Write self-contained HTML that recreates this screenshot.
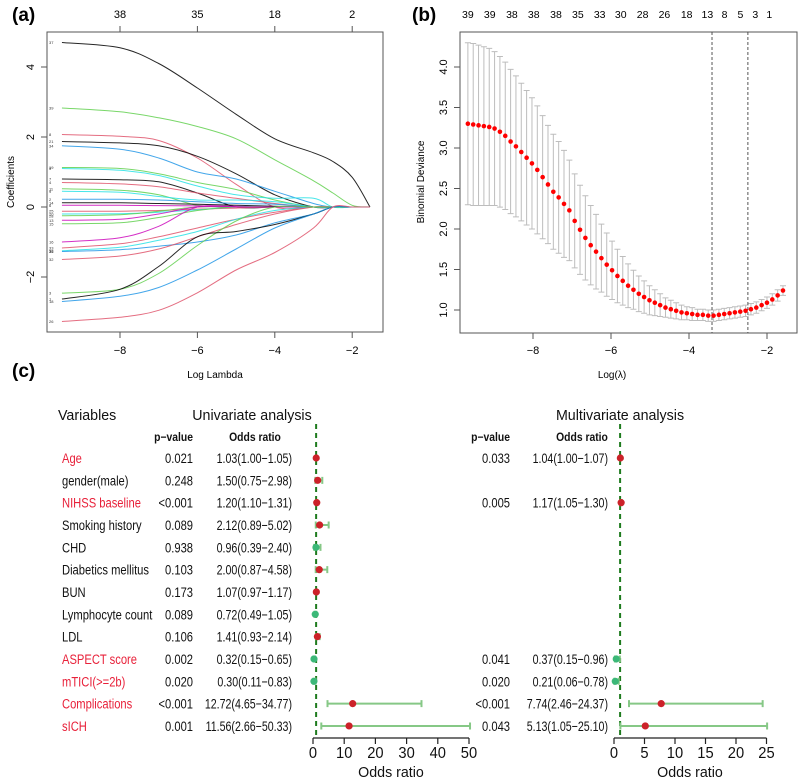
<!DOCTYPE html>
<html><head><meta charset="utf-8">
<style>
html,body{margin:0;padding:0;background:#fff;}
svg{display:block;font-family:"Liberation Sans",Arial,sans-serif;}
</style></head>
<body>
<svg id="root" width="800" height="780" viewBox="0 0 800 780" xmlns="http://www.w3.org/2000/svg">
<text x="12" y="21" font-size="19" font-weight="bold">(a)</text>
<text x="412" y="21" font-size="19" font-weight="bold">(b)</text>
<text x="12" y="377" font-size="19" font-weight="bold">(c)</text>
<g id="pa"></g>
<g id="pb"></g>
<g id="pc"></g>
</svg>
<script>
// ---------- Panel A data ----------
const aKnots = [-9.5,-8,-7,-6,-5,-4,-3,-2.5,-2,-1.54];
const aColors = ["#000","#61D04F","#DF536B","#000","#2297E6","#61D04F","#28E2E5","#000","#DF536B","#61D04F","#28E2E5","#2297E6","#000","#CD0BBC","#DF536B","#28E2E5","#61D04F","#CD0BBC","#61D04F","#CD0BBC","#DF536B","#28E2E5","#2297E6","#DF536B","#61D04F","#000","#2297E6","#DF536B"];
const aCoefs = [
 [4.7,4.55,4.1,3.4,2.65,1.95,1.55,1.3,0.85,0],
 [2.83,2.72,2.55,2.3,1.95,1.35,0.75,0.4,0.05,0],
 [2.07,2.02,1.9,1.4,0.65,0,0,0,0,0],
 [1.87,1.83,1.75,1.45,0.95,0.35,0,0,0,0],
 [1.75,1.65,1.4,1.0,0.8,0.45,0.1,0,0,0],
 [1.13,1.1,0.95,0.7,0.5,0.2,0,0,0,0],
 [1.1,1.05,0.9,0.6,0.35,0.25,0.25,0,0,0],
 [0.8,0.78,0.72,0.4,0,0,0,0,0,0],
 [0.7,0.66,0.58,0.4,0.25,0.1,0,0,0,0],
 [0.52,0.48,0.35,0.05,0,0,0,0,0,0],
 [0.45,0.42,0.3,0.2,0.2,0.15,0,0,0,0],
 [0.22,0.22,0.2,0.15,0.1,0.08,0,0,0,0],
 [0.12,0.12,0.1,0.08,0.05,0.02,0,0,0,0],
 [0.05,0.05,0.04,0.03,0.02,0,0,0,0,0],
 [-0.12,-0.12,-0.1,-0.06,-0.03,0,0,0,0,0],
 [-0.2,-0.19,-0.15,-0.08,0,0,0,0,0,0],
 [-0.25,-0.22,-0.12,0,0,0,0,0,0,0],
 [-0.38,-0.35,-0.2,0,0,0,0,0,0,0],
 [-0.48,-0.45,-0.3,-0.1,0,0,0,0,0,0],
 [-1.0,-0.88,-0.55,0,0,0,0,0,0,0],
 [-1.17,-1.05,-0.85,-0.6,-0.35,-0.15,0,0,0,0],
 [-1.25,-1.15,-0.95,-0.7,-0.35,-0.1,0,0,0,0],
 [-1.27,-1.22,-1.12,-1.0,-0.8,-0.45,-0.2,0,0,0],
 [-1.5,-1.4,-1.2,-0.85,-0.5,-0.2,0,0,0,0],
 [-2.46,-2.35,-1.9,-1.1,-0.4,0,0,0,0,0],
 [-2.63,-2.35,-1.7,-0.85,-0.7,-0.5,-0.2,0,0,0],
 [-2.7,-2.55,-2.3,-1.8,-1.2,-0.6,-0.2,0,0,0],
 [-3.27,-3.15,-2.95,-2.45,-1.8,-1.3,-0.6,0,0,0]
];
const aLabels = ["37","39","8","21","34","19","5","7","4","11","9","2","14","6","25","20","28","13","15","16","33","38","35","32","3","1","18","26"];
const aXTicks = [-8,-6,-4,-2];
const aYTicks = [-2,0,2,4];
const aTopTicks = ["38","35","18","2"];

// ---------- Panel B data ----------
const bLogLambdaMax = -9.67, bLogLambdaMin = -1.59;
const bMean = [3.30,3.29,3.28,3.27,3.26,3.24,3.20,3.15,3.08,3.02,2.95,2.88,2.81,2.73,2.64,2.55,2.46,2.39,2.31,2.23,2.10,1.99,1.89,1.80,1.72,1.64,1.56,1.49,1.42,1.36,1.30,1.25,1.20,1.16,1.12,1.09,1.06,1.03,1.01,0.99,0.97,0.96,0.95,0.94,0.94,0.93,0.93,0.94,0.95,0.96,0.97,0.98,0.99,1.01,1.03,1.06,1.09,1.13,1.18,1.24];
const bSe = [1.00,1.00,0.99,0.98,0.97,0.95,0.93,0.91,0.89,0.87,0.85,0.83,0.81,0.79,0.76,0.73,0.71,0.69,0.66,0.62,0.58,0.55,0.52,0.49,0.46,0.42,0.39,0.36,0.33,0.30,0.27,0.24,0.22,0.20,0.18,0.16,0.14,0.12,0.11,0.10,0.09,0.08,0.08,0.07,0.07,0.07,0.07,0.07,0.07,0.07,0.07,0.07,0.07,0.07,0.07,0.07,0.07,0.07,0.07,0.06];
const bVlines = [-3.41,-2.49];
const bXTicks = [-8,-6,-4,-2];
const bYTicks = [1.0,1.5,2.0,2.5,3.0,3.5,4.0];
const bTopLabels = ["39","39","38","38","38","35","33","30","28","26","18","13","8","5","3","1"];
const bTopLambda = [-9.67,-9.11,-8.54,-7.98,-7.41,-6.85,-6.29,-5.75,-5.19,-4.63,-4.06,-3.53,-3.09,-2.68,-2.3,-1.94];

// ---------- Panel C data ----------
const cVars = ["Age","gender(male)","NIHSS baseline","Smoking history","CHD","Diabetics mellitus","BUN","Lymphocyte count","LDL","ASPECT score","mTICI(>=2b)","Complications","sICH"];
const cSig = [1,0,1,0,0,0,0,0,0,1,1,1,1];
const uniP = ["0.021","0.248","<0.001","0.089","0.938","0.103","0.173","0.089","0.106","0.002","0.020","<0.001","0.001"];
const uniOR = [1.03,1.50,1.20,2.12,0.96,2.00,1.07,0.72,1.41,0.32,0.30,12.72,11.56];
const uniLo = [1.00,0.75,1.10,0.89,0.39,0.87,0.97,0.49,0.93,0.15,0.11,4.65,2.66];
const uniHi = [1.05,2.98,1.31,5.02,2.40,4.58,1.17,1.05,2.14,0.65,0.83,34.77,50.33];
const multiP = ["0.033",null,"0.005",null,null,null,null,null,null,"0.041","0.020","<0.001","0.043"];
const multiOR = [1.04,null,1.17,null,null,null,null,null,null,0.37,0.21,7.74,5.13];
const multiLo = [1.00,null,1.05,null,null,null,null,null,null,0.15,0.06,2.46,1.05];
const multiHi = [1.07,null,1.30,null,null,null,null,null,null,0.96,0.78,24.37,25.10];
const uniTicks = [0,10,20,30,40,50];
const multiTicks = [0,5,10,15,20,25];

const NS="http://www.w3.org/2000/svg";
function mk(parent,tag,attrs,text){const e=document.createElementNS(NS,tag);for(const k in attrs)e.setAttribute(k,attrs[k]);if(text!==undefined)e.textContent=text;parent.appendChild(e);return e;}

// ===== Panel A =====
(function(){
 const g=document.getElementById('pa');
 const ax=l=>120+(l+8)*38.7, ay=c=>207-c*35;
 const f=document.createElementNS(NS,'rect');
 
 
 f.setAttribute('x',47);f.setAttribute('y',32);f.setAttribute('width',336);f.setAttribute('height',300);f.setAttribute('fill','none');f.setAttribute('stroke','#555');
 g.appendChild(f);
 aCoefs.forEach((vals,k)=>{
  const pts=vals.map((v,i)=>[ax(aKnots[i]),ay(v)]);
  let d='M'+pts[0][0]+','+pts[0][1];
  for(let i=0;i<pts.length-1;i++){
   const p0=pts[Math.max(0,i-1)],p1=pts[i],p2=pts[i+1],p3=pts[Math.min(pts.length-1,i+2)];
   const c1=[p1[0]+(p2[0]-p0[0])/6,p1[1]+(p2[1]-p0[1])/6],c2=[p2[0]-(p3[0]-p1[0])/6,p2[1]-(p3[1]-p1[1])/6];
   d+=' C'+c1[0].toFixed(1)+','+c1[1].toFixed(1)+' '+c2[0].toFixed(1)+','+c2[1].toFixed(1)+' '+p2[0].toFixed(1)+','+p2[1].toFixed(1);
  }
  const p=mk(g,'path',{d:d,fill:'none',stroke:aColors[k],'stroke-width':1,'stroke-opacity':0.85});
  
  
  const t=mk(g,'text',{x:49,y:ay(vals[0])+1.5,'font-size':4,fill:'#333'},aLabels[k]);
  
  
 });
 aXTicks.forEach(v=>{mk(g,'line',{x1:ax(v),x2:ax(v),y1:332,y2:338,stroke:'#555'});
  const t=mk(g,'text',{x:ax(v),y:354,'font-size':11,'text-anchor':'middle'},'\u2212'+Math.abs(v));
  });
 aYTicks.forEach(v=>{mk(g,'line',{x1:41,x2:47,y1:ay(v),y2:ay(v),stroke:'#555'});
  const t=mk(g,'text',{x:34,y:ay(v),'font-size':11,'text-anchor':'middle',transform:'rotate(-90 34 '+ay(v)+')'},v<0?'\u2212'+Math.abs(v):String(v));
  });
 aTopTicks.forEach((s,i)=>{const x=ax(aXTicks[i]);mk(g,'line',{x1:x,x2:x,y1:26,y2:32,stroke:'#555'});
  const t=mk(g,'text',{x:x,y:18,'font-size':11,'text-anchor':'middle'},s);
  });
 const xl=mk(g,'text',{x:215,y:378,'font-size':10,'text-anchor':'middle'},'Log Lambda');
 
 const yl=mk(g,'text',{x:14,y:182,'font-size':10,'text-anchor':'middle',transform:'rotate(-90 14 182)'},'Coefficients');
 
})();

// ===== Panel B =====
(function(){
 const g=document.getElementById('pb');
 const bx=l=>533+(l+8)*39, by=v=>310-(v-1)*81;
 const f=mk(g,'rect',{x:460,y:32,width:337,height:301,fill:'none',stroke:'#555'});
 
 const n=bMean.length, step=(bLogLambdaMin-bLogLambdaMax)/(n-1);
 for(let i=0;i<n;i++){
  const l=bLogLambdaMax+i*step,x=bx(l),yu=by(bMean[i]+bSe[i]),yl=by(bMean[i]-bSe[i]);
  const e=mk(g,'path',{d:`M${x},${yu}V${yl}M${x-3},${yu}H${x+3}M${x-3},${yl}H${x+3}`,stroke:'#bdbdbd','stroke-width':1,fill:'none'});
  
 }
 bVlines.forEach(l=>{const v=mk(g,'line',{x1:bx(l),x2:bx(l),y1:32,y2:333,stroke:'#444','stroke-dasharray':'3,2','stroke-width':0.9});
  });
 for(let i=0;i<n;i++){
  const l=bLogLambdaMax+i*step;
  const c=mk(g,'circle',{cx:bx(l),cy:by(bMean[i]),r:2.3,fill:'#f00'});
  
 }
 bXTicks.forEach(v=>{mk(g,'line',{x1:bx(v),x2:bx(v),y1:333,y2:339,stroke:'#555'});
  const t=mk(g,'text',{x:bx(v),y:354,'font-size':11,'text-anchor':'middle'},'\u2212'+Math.abs(v));
  });
 bYTicks.forEach(v=>{mk(g,'line',{x1:454,x2:460,y1:by(v),y2:by(v),stroke:'#555'});
  const t=mk(g,'text',{x:447,y:by(v),'font-size':11,'text-anchor':'middle',transform:'rotate(-90 447 '+by(v)+')'},v.toFixed(1));
  });
 bTopLabels.forEach((s,i)=>{const t=mk(g,'text',{x:bx(bTopLambda[i]),y:18,'font-size':10.5,'text-anchor':'middle'},s);
  });
 const xl=mk(g,'text',{x:612,y:378,'font-size':10,'text-anchor':'middle'},'Log(\u03bb)');
 
 const yl=mk(g,'text',{x:424,y:182,'font-size':10,'text-anchor':'middle',transform:'rotate(-90 424 182)'},'Binomial Deviance');
 
})();

// ===== Panel C =====
(function(){
 const g=document.getElementById('pc');
 const rowY=i=>458+i*22.33;
 const ux=v=>313+v*3.12, mx=v=>614+v*6.1;
 // condensed text helper (reference font is narrow)
 const h=(x,y,s,txt,anchor,w,name,sx,fill)=>{const t=mk(g,'text',{x:0,y:0,'font-size':s,'text-anchor':anchor||'start','font-weight':w||'normal',fill:fill||'#111',transform:`translate(${x},${y}) scale(${sx||1},1)`},txt);return t;};
 h(58,420,15,'Variables','start',null,'variables-header',0.95);
 h(252,420,15,'Univariate analysis','middle',null,'univariate-header',0.95);
 h(620,420,15,'Multivariate analysis','middle',null,'multivariate-header',0.95);
 h(193,441,11.5,'p\u2212value','end','bold','uni-pvalue-header',0.9);
 h(255,441,11.5,'Odds ratio','middle','bold','uni-or-header',0.9);
 h(510,441,11.5,'p\u2212value','end','bold','multi-pvalue-header',0.9);
 h(582,441,11.5,'Odds ratio','middle','bold','multi-or-header',0.9);
 const r1=mk(g,'line',{x1:ux(1),x2:ux(1),y1:424,y2:738,stroke:'#1e7b1e','stroke-width':2,'stroke-dasharray':'5,4'});
 
 const r2=mk(g,'line',{x1:mx(1),x2:mx(1),y1:424,y2:738,stroke:'#1e7b1e','stroke-width':2,'stroke-dasharray':'5,4'});
 
 function drawRow(xf,or,lo,hi,y,nm){
  const l=mk(g,'path',{d:`M${xf(lo)},${y}H${xf(hi)}M${xf(lo)},${y-3.5}V${y+3.5}M${xf(hi)},${y-3.5}V${y+3.5}`,stroke:'#86c886','stroke-width':2,fill:'none'});
  
  const c=mk(g,'circle',{cx:xf(or),cy:y,r:3.6,fill:or>=1?'#cc2229':'#3cb878'});
  
 }
 const fmt=v=>v.toFixed(2);
 cVars.forEach((v,i)=>{
  const y=rowY(i);
  h(62,y+5,14,v,'start',null,'variable-label',0.8,cSig[i]?'#e8213a':'#111');
  h(193,y+5,14,uniP[i],'end',null,'uni-pvalue',0.8);
  h(292,y+5,14,`${fmt(uniOR[i])}(${fmt(uniLo[i])}\u2212${fmt(uniHi[i])})`,'end',null,'uni-odds-ratio',0.76);
  drawRow(ux,uniOR[i],uniLo[i],uniHi[i],y,'uni-row');
  if(multiOR[i]!==null){
   h(510,y+5,14,multiP[i],'end',null,'multi-pvalue',0.8);
   h(608,y+5,14,`${fmt(multiOR[i])}(${fmt(multiLo[i])}\u2212${fmt(multiHi[i])})`,'end',null,'multi-odds-ratio',0.76);
   drawRow(mx,multiOR[i],multiLo[i],multiHi[i],y,'multi-row');
  }
 });
 function axis(xf,ticks,cx,nm){
  const a=mk(g,'line',{x1:xf(ticks[0]),x2:xf(ticks[ticks.length-1]),y1:738,y2:738,stroke:'#222','stroke-width':1.2});
  
  ticks.forEach(v=>{mk(g,'line',{x1:xf(v),x2:xf(v),y1:738,y2:744,stroke:'#222','stroke-width':1.2});
   h(xf(v),758,15.5,String(v),'middle',null,nm+'-tick-label',0.95);});
  h(cx,777,15,'Odds ratio','middle',null,nm+'-x-axis-title',0.95);
 }
 axis(ux,uniTicks,391,'uni');
 axis(mx,multiTicks,690,'multi');
})();
</script>
</body></html>
